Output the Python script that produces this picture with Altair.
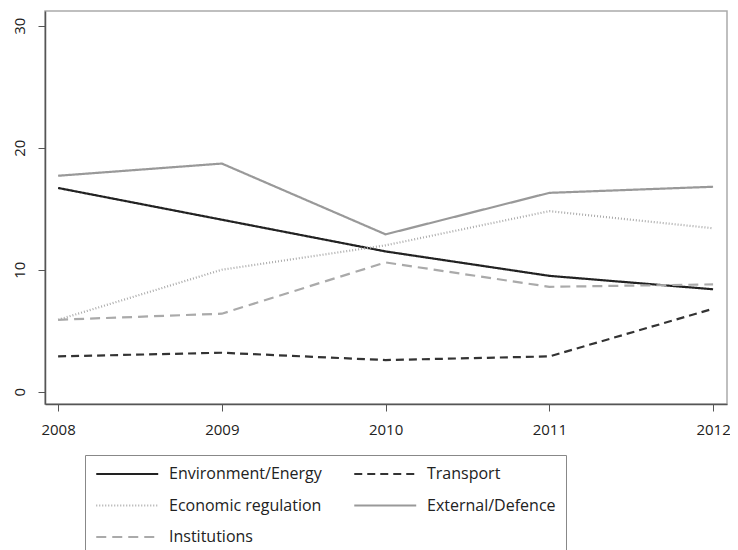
import altair as alt
import pandas as pd

years = [2008, 2009, 2010, 2011, 2012]
series = ["Environment/Energy", "Transport", "Economic regulation", "External/Defence", "Institutions"]
env = [16.7, 14.1, 11.5, 9.5, 8.4]
transport = [2.9, 3.2, 2.6, 2.9, 6.8]
econ = [5.9, 10.0, 12.0, 14.8, 13.4]
ext = [17.7, 18.7, 12.9, 16.3, 16.8]
inst = [5.9, 6.4, 10.6, 8.6, 8.8]
y_ticks = [0, 10, 20, 30]

colors = ["#222222", "#333333", "#aaaaaa", "#999999", "#aaaaaa"]
dashes = [[1, 0], [8, 5], [1, 2], [1, 0], [10, 6]]
widths = [2.2, 2.2, 1.5, 1.6, 2.0]

rows = []
for name, vals in zip(series, [env, transport, econ, ext, inst]):
    for yr, v in zip(years, vals):
        rows.append({"year": yr, "value": v, "series": name})
df = pd.DataFrame(rows)

FONT = "Open Sans"
leg = alt.Legend(
    title=None, orient="none", legendX=40, legendY=444, columns=2,
    direction="horizontal",
    symbolType="M-1,0H7", symbolSize=240, labelFont=FONT, labelFontSize=16,
    labelColor="#222", labelOffset=56, strokeColor="#888", padding=10,
    columnPadding=27, rowPadding=14.5, fillColor="white", labelLimit=300,
)

chart = alt.Chart(df).mark_line().encode(
    x=alt.X("year:Q", scale=alt.Scale(domain=[2007.92, 2012.085], nice=False, zero=False),
            axis=alt.Axis(values=years, format="d", title=None, grid=False,
                          labelFont=FONT, labelFontSize=15, labelColor="#222",
                          tickSize=7, tickColor="#555", domainColor="#555", domainWidth=1.5,
                          labelPadding=11)),
    y=alt.Y("value:Q", scale=alt.Scale(domain=[-1.0, 31.2], nice=False, zero=False),
            axis=alt.Axis(values=y_ticks, title=None, grid=False,
                          labelFont=FONT, labelFontSize=15, labelColor="#222",
                          labelAngle=270, labelAlign="center", labelBaseline="bottom",
                          tickSize=7, tickColor="#555", domainColor="#555", domainWidth=1.5,
                          labelPadding=11)),
    color=alt.Color("series:N", scale=alt.Scale(domain=series, range=colors), legend=leg),
    strokeDash=alt.StrokeDash("series:N", scale=alt.Scale(domain=series, range=dashes), legend=leg),
    strokeWidth=alt.StrokeWidth("series:N", scale=alt.Scale(domain=series, range=widths), legend=leg),
).properties(
    width=682, height=393, autosize="none",
    padding={"left": 37, "top": 3, "right": 3, "bottom": 160},
).configure_view(stroke="#aaa", strokeWidth=1.5)

chart.save("out.html", embed_options={"renderer": "svg", "actions": False})
